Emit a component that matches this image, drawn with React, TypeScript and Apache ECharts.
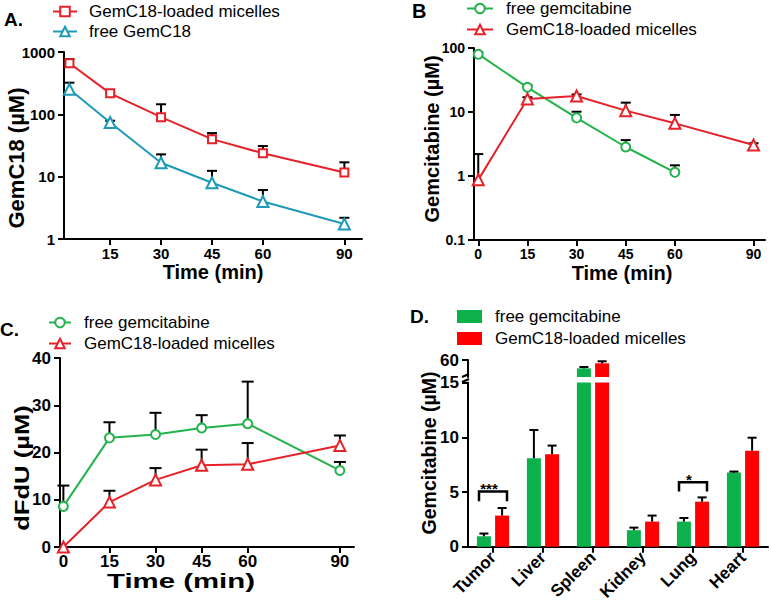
import React, { useEffect, useRef } from "react";
import * as echarts from "echarts";

// ---------- data ----------
// Panel A: GemC18 plasma concentration (µM), log scale
const timesA = [3, 15, 30, 45, 60, 90];
const micellesA = [660, 217, 90, 40, 23.7, 11.7];
const micellesASd = [110, 10, 55, 10, 7.3, 5.3];
const freeA = [252, 74, 16.7, 8.0, 4.0, 1.74];
const freeASd = [70, 5, 6.1, 4.4, 2.1, 0.45];

// Panel B: gemcitabine (µM), log scale
const timesB = [0, 15, 30, 45, 60, 90];
const freeB = [80, 24.3, 8.1, 2.84, 1.14];
const freeBSd = [5, 2, 2.0, 0.8, 0.33];
const micellesB = [0.87, 16, 17.8, 10.5, 6.65, 3.05];
const micellesBSd = [1.33, 1, 1, 3.5, 2.35, 0.2];

// Panel C: dFdU (µM)
const timesC = [0, 15, 30, 45, 60, 90];
const freeC = [8.6, 23.1, 23.8, 25.2, 26.1, 16.2];
const freeCSd = [4.4, 3.3, 4.6, 2.7, 8.9, 1.8];
const micellesC = [0, 9.5, 14.2, 17.3, 17.5, 21.5];
const micellesCSd = [0, 2.4, 2.5, 3.3, 4.5, 2.1];

// Panel D: tissue gemcitabine (µM)
const organs = ["Tumor", "Liver", "Spleen", "Kidney", "Lung", "Heart"];
const freeD = [0.96, 8.09, 50.2, 1.51, 2.3, 6.78];
const freeDSd = [0.25, 2.57, 1.6, 0.24, 0.33, 0.09];
const micellesD = [2.85, 8.45, 56.1, 2.3, 4.12, 8.78];
const micellesDSd = [0.69, 0.79, 2.4, 0.55, 0.39, 1.18];
const sigOrgans = [0, 4];
const sigBracketTop = [5.05, 5.9];
const sigBracketLeg = [4.15, 5.05];
const sigLabels = ["***", "*"];

// broken y axis of panel D
const breakLow = 15;
const upperMin = 40;
const upperMax = 60;

// ---------- styles ----------
const FONT = "Liberation Sans, Arial, sans-serif";
const RED = "#e62129";
const TEAL = "#1c9ab6";
const GREEN = "#23b24b";
const BAR_GREEN = "#0cb14b";
const BAR_RED = "#ff0000";
const BAR_W = 14;
const BAR_GAP = 0.3;

// the time axes of panels A and B place 90 min closer than linear
const axisPos = (t: number) => (t <= 60 ? t : 60 + (t - 60) * 0.8);
const axisTime = (p: number) => (p <= 60 ? p : 60 + (p - 60) / 0.8);

const sep = (name: string) => name.split("|")[1];
const plain = (v: number) => String(v);

function errRender(cap: number, offset: number) {
  return (params: any, api: any) => {
    const x = api.value(0);
    const v = api.value(1);
    const t = api.value(2);
    const p0 = api.coord([x, v]);
    const p1 = api.coord([x, t]);
    const cx = p0[0] + offset;
    return {
      type: "group",
      children: [
        { type: "line", shape: { x1: cx, y1: p0[1], x2: cx, y2: p1[1] }, style: { stroke: "#000", lineWidth: 2 } },
        { type: "line", shape: { x1: cx - cap, y1: p1[1], x2: cx + cap, y2: p1[1] }, style: { stroke: "#000", lineWidth: 2 } },
      ],
    };
  };
}

function lineSeries(name: string, idx: number, times: number[], vals: number[], color: string, symbol: string, size: number, pos: (t: number) => number) {
  return {
    type: "line",
    name,
    xAxisIndex: idx,
    yAxisIndex: idx,
    data: vals.map((v, i) => [pos(times[i]), v]),
    symbol,
    symbolSize: size,
    lineStyle: { color, width: 2 },
    itemStyle: { color, borderColor: color, borderWidth: 2 },
    z: 3,
    clip: false,
    silent: true,
  };
}

function errSeries(idx: number, times: number[], vals: number[], sds: number[], cap: number, pos: (t: number) => number) {
  return {
    type: "custom",
    xAxisIndex: idx,
    yAxisIndex: idx,
    data: vals.map((v, i) => [pos(times[i]), v, v + sds[i]]).filter((d, i) => sds[i] > 0),
    encode: { x: 0, y: [1, 2] },
    renderItem: errRender(cap, 0),
    z: 2,
    silent: true,
  };
}

function barErrSeries(idx: number, vals: number[], sds: number[], offset: number, upper: boolean) {
  return {
    type: "custom",
    xAxisIndex: idx,
    yAxisIndex: idx,
    data: vals
      .map((v, i) => [i, v, v + sds[i]])
      .filter((d) => (upper ? d[1] > breakLow : d[1] <= breakLow)),
    encode: { x: 0, y: [1, 2] },
    renderItem: errRender(4.5, offset),
    z: 4,
    silent: true,
  };
}

const axisLine = { show: true, onZero: false, lineStyle: { color: "#000", width: 2 } };
const axisTick = { show: true, length: 6, lineStyle: { color: "#000", width: 2 } };
const lbl = (size: number, margin: number) => ({
  color: "#000",
  fontWeight: "bold",
  fontSize: size,
  fontFamily: FONT,
  margin,
});

function legendCfg(left: number, top: number, names: string[], itemWidth: number, itemHeight: number, gap: number, pad: number, icon?: string) {
  const l: any = {
    left,
    top,
    orient: "vertical",
    itemWidth,
    itemHeight,
    itemGap: gap,
    padding: 0,
    selectedMode: false,
    data: names,
    formatter: sep,
    textStyle: { fontSize: 17, fontFamily: FONT, color: "#000", padding: [0, 0, 0, pad] },
  };
  if (icon) l.icon = icon;
  return l;
}

function txt(text: string, x: number, y: number, size: number, opts: any = {}) {
  return {
    type: "text",
    x,
    y,
    rotation: opts.rotation || 0,
    scaleX: opts.scaleX || 1,
    style: {
      text,
      font: `bold ${size}px ${FONT}`,
      fill: "#000",
      align: opts.align || "center",
      verticalAlign: "middle",
    },
    silent: true,
  };
}

export default function App() {
  const ref = useRef<HTMLDivElement>(null);

  useEffect(() => {
    if (!ref.current) return;
    const chart = echarts.init(ref.current, null, { renderer: "svg", width: 771, height: 603 });
    const barOffset = (BAR_W * (1 + BAR_GAP)) / 2;

    const option: any = {
      animation: false,
      backgroundColor: "#fff",
      grid: [
        { left: 64, top: 52, width: 298, height: 187 },
        { left: 474, top: 48, width: 291, height: 192 },
        { left: 60, top: 358, width: 294, height: 189 },
        { left: 468, top: 382.5, width: 300, height: 165 },
        { left: 468, top: 360, width: 300, height: 17 },
      ],
      xAxis: [
        {
          type: "value", gridIndex: 0, min: 1.4, max: 89.2,
          axisLine, axisTick: { ...axisTick, customValues: timesA.slice(1).map(axisPos) },
          axisLabel: { ...lbl(15, 7), customValues: timesA.slice(1).map(axisPos), formatter: (v: number) => String(Math.round(axisTime(v))) },
          splitLine: { show: false },
        },
        {
          type: "value", gridIndex: 1, min: -1.3, max: 87.5,
          axisLine, axisTick: { ...axisTick, customValues: timesB.map(axisPos) },
          axisLabel: { ...lbl(14, 7), customValues: timesB.map(axisPos), formatter: (v: number) => String(Math.round(axisTime(v))) },
          splitLine: { show: false },
        },
        {
          type: "value", gridIndex: 2, min: -1.1, max: 94.6,
          axisLine, axisTick: { ...axisTick, customValues: timesC },
          axisLabel: { ...lbl(17, 6), customValues: timesC },
          splitLine: { show: false },
        },
        {
          type: "category", gridIndex: 3, data: organs,
          axisLine, axisTick: { ...axisTick, alignWithLabel: true },
          axisLabel: { ...lbl(17, 8), rotate: 45, interval: 0 },
        },
        { type: "category", gridIndex: 4, data: organs, show: false },
      ],
      yAxis: [
        {
          type: "log", gridIndex: 0, logBase: 10, min: 1, max: 1000,
          axisLine, axisTick, axisLabel: { ...lbl(15, 9), formatter: plain }, splitLine: { show: false }, minorTick: { show: false },
        },
        {
          type: "log", gridIndex: 1, logBase: 10, min: 0.1, max: 100,
          axisLine, axisTick, axisLabel: { ...lbl(14, 9), formatter: plain }, splitLine: { show: false },
        },
        {
          type: "value", gridIndex: 2, min: 0, max: 40, interval: 10,
          axisLine, axisTick, axisLabel: lbl(17, 9), splitLine: { show: false },
        },
        {
          type: "value", gridIndex: 3, min: 0, max: breakLow, interval: 5,
          axisLine, axisTick, axisLabel: lbl(17, 9), splitLine: { show: false },
        },
        {
          type: "value", gridIndex: 4, min: upperMin, max: upperMax,
          axisLine,
          axisTick: { ...axisTick, customValues: [upperMax] },
          axisLabel: { ...lbl(17, 9), customValues: [upperMax] },
          splitLine: { show: false },
        },
      ],
      legend: [
        legendCfg(52, 3, ["A|GemC18-loaded micelles", "A|free GemC18"], 24, 12, 3, 7),
        legendCfg(466, 0, ["B|free gemcitabine", "B|GemC18-loaded micelles"], 26, 12, 4, 8),
        legendCfg(48, 314, ["C|free gemcitabine", "C|GemC18-loaded micelles"], 22, 12, 4, 8),
        legendCfg(457, 308, ["D|free gemcitabine", "D|GemC18-loaded micelles"], 25, 13, 5, 8, "rect"),
      ],
      series: [
        // A
        errSeries(0, timesA, micellesA, micellesASd, 5, axisPos),
        errSeries(0, timesA, freeA, freeASd, 5, axisPos),
        lineSeries("A|GemC18-loaded micelles", 0, timesA, micellesA, RED, "emptyRect", 8, axisPos),
        lineSeries("A|free GemC18", 0, timesA, freeA, TEAL, "emptyTriangle", 11, axisPos),
        // B
        errSeries(1, timesB, freeB, freeBSd, 5, axisPos),
        errSeries(1, timesB, micellesB, micellesBSd, 5, axisPos),
        lineSeries("B|free gemcitabine", 1, timesB, freeB, GREEN, "emptyCircle", 9, axisPos),
        lineSeries("B|GemC18-loaded micelles", 1, timesB, micellesB, RED, "emptyTriangle", 11, axisPos),
        // C
        errSeries(2, timesC, freeC, freeCSd, 6, (t) => t),
        errSeries(2, timesC, micellesC, micellesCSd, 6, (t) => t),
        lineSeries("C|free gemcitabine", 2, timesC, freeC, GREEN, "emptyCircle", 9, (t) => t),
        lineSeries("C|GemC18-loaded micelles", 2, timesC, micellesC, RED, "emptyTriangle", 11, (t) => t),
        // D lower segment
        {
          type: "bar", name: "D|free gemcitabine", xAxisIndex: 3, yAxisIndex: 3, data: freeD,
          barWidth: BAR_W, barGap: `${BAR_GAP * 100}%`, itemStyle: { color: BAR_GREEN }, clip: true, silent: true,
        },
        {
          type: "bar", name: "D|GemC18-loaded micelles", xAxisIndex: 3, yAxisIndex: 3, data: micellesD,
          barWidth: BAR_W, barGap: `${BAR_GAP * 100}%`, itemStyle: { color: BAR_RED }, clip: true, silent: true,
        },
        // D upper segment
        {
          type: "bar", name: "D|free gemcitabine", xAxisIndex: 4, yAxisIndex: 4,
          data: freeD.map((v) => (v > breakLow ? v : "-")),
          barWidth: BAR_W, barGap: `${BAR_GAP * 100}%`, itemStyle: { color: BAR_GREEN }, clip: true, silent: true,
        },
        {
          type: "bar", name: "D|GemC18-loaded micelles", xAxisIndex: 4, yAxisIndex: 4,
          data: micellesD.map((v) => (v > breakLow ? v : "-")),
          barWidth: BAR_W, barGap: `${BAR_GAP * 100}%`, itemStyle: { color: BAR_RED }, clip: true, silent: true,
        },
        barErrSeries(3, freeD, freeDSd, -barOffset, false),
        barErrSeries(3, micellesD, micellesDSd, barOffset, false),
        barErrSeries(4, freeD, freeDSd, -barOffset, true),
        barErrSeries(4, micellesD, micellesDSd, barOffset, true),
        {
          type: "custom", xAxisIndex: 3, yAxisIndex: 3,
          data: sigOrgans.map((o, i) => [o, sigBracketTop[i], sigBracketLeg[i]]),
          encode: { x: 0, y: [1, 2] },
          z: 5,
          silent: true,
          renderItem: (params: any, api: any) => {
            const c = api.coord([api.value(0), api.value(1)]);
            const l = api.coord([api.value(0), api.value(2)]);
            const half = 14;
            return {
              type: "group",
              children: [
                {
                  type: "polyline",
                  shape: { points: [[c[0] - half, l[1]], [c[0] - half, c[1]], [c[0] + half, c[1]], [c[0] + half, l[1]]] },
                  style: { stroke: "#000", lineWidth: 2.5, fill: "none" },
                },
                {
                  type: "text",
                  x: c[0] - 4,
                  y: c[1] - 3,
                  style: { text: sigLabels[params.dataIndex], font: `bold 15px ${FONT}`, fill: "#000", align: "center", verticalAlign: "middle" },
                },
              ],
            };
          },
        },
      ],
      graphic: [
        txt("A.", 4, 19, 19, { align: "left" }),
        txt("B", 412, 11, 20, { align: "left" }),
        txt("C.", 0, 329, 19, { align: "left" }),
        txt("D.", 410, 316, 19, { align: "left" }),
        txt("Time (min)", 213, 272, 20),
        txt("GemC18 (µM)", 16, 158, 22, { rotation: Math.PI / 2 }),
        txt("Time (min)", 622, 273, 20),
        txt("Gemcitabine (µM)", 432, 139, 20, { rotation: Math.PI / 2 }),
        txt("Time (min)", 181, 581, 21, { scaleX: 1.4 }),
        txt("dFdU (µM)", 22, 468, 21, { rotation: Math.PI / 2, scaleX: 1.22 }),
        txt("Gemcitabine (µM)", 429, 453, 19.5, { rotation: Math.PI / 2 }),
        { type: "line", shape: { x1: 462, y1: 377, x2: 469, y2: 374 }, style: { stroke: "#000", lineWidth: 2 }, silent: true },
        { type: "line", shape: { x1: 462, y1: 382, x2: 469, y2: 379 }, style: { stroke: "#000", lineWidth: 2 }, silent: true },
      ],
    };

    chart.setOption(option);
    return () => chart.dispose();
  }, []);

  return <div ref={ref} style={{ position: "absolute", left: 0, top: 0, width: 771, height: 603 }} />;
}
